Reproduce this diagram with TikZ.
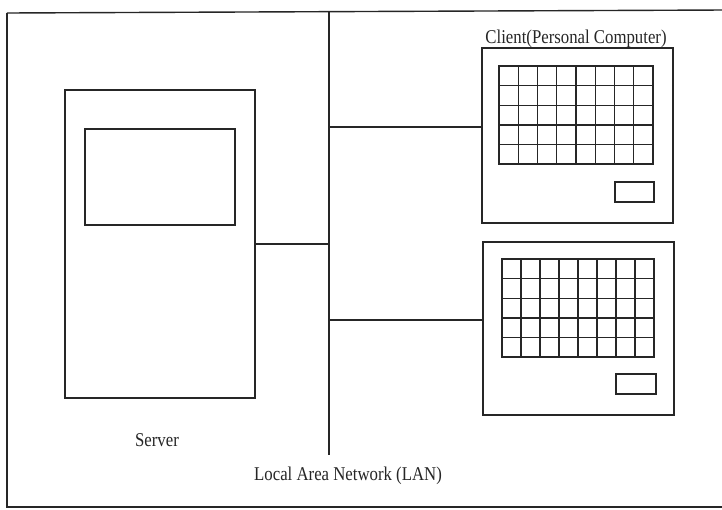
\documentclass[tikz,border=0pt]{standalone}
\usepackage{fontspec}
\setmainfont[FakeStretch=0.86]{Liberation Serif}
\usetikzlibrary{calc}
\begin{document}
\begin{tikzpicture}[x=1pt,y=-1pt,
  line width=1.3pt, draw=black!85,
  box/.style={draw, inner sep=0pt, outer sep=0pt, line width=1.4pt},
  lbl/.style={inner sep=0pt, font=\fontsize{19.5}{22}\selectfont, text=black!85}]
\useasboundingbox[fill=white] (0,0) rectangle (722,509);
% outer frame
\draw[line width=1.4pt] (7,13) -- (725,10);
\draw[line width=1.4pt] (7,13) -- (7,507) -- (725,507);
% LAN bus
\coordinate (lantop) at (329,12);
\coordinate (lanbot) at (329,455);
\draw (lantop) -- (lanbot);
% server
\node[box, minimum width=190pt, minimum height=308pt] (server) at (160,244) {};
\node[box, minimum width=150pt, minimum height=96pt] (srvscreen) at (160,177) {};
\draw (server.east) -- (server.east -| lantop);
\node[lbl, anchor=base] (srvlbl) at (157,446) {Server};
% client 1
\node[box, minimum width=191pt, minimum height=175pt] (c1) at (577.5,135.5) {};
\node[box, minimum width=154pt, minimum height=98pt] (g1) at (576,115) {};
\foreach \i in {1,...,7} \draw[line width=1.4pt] ($(g1.north west)!\i/8!(g1.north east)$) -- ($(g1.south west)!\i/8!(g1.south east)$);
\foreach \j in {1,...,4} \draw[line width=1.4pt] ($(g1.north west)!\j/5!(g1.south west)$) -- ($(g1.north east)!\j/5!(g1.south east)$);
\node[box, minimum width=39pt, minimum height=20pt] (b1) at (634.5,192) {};
\coordinate (j1) at (329,127);
\draw (j1) -- (j1 -| c1.west);
\node[lbl, anchor=base] (c1lbl) at (576,43) {Client(Personal Computer)};
% client 2
\node[box, minimum width=191pt, minimum height=173pt] (c2) at (578.5,328.5) {};
\node[box, minimum width=152pt, minimum height=98pt] (g2) at (578,308) {};
\foreach \i in {1,...,7} \draw[line width=1.4pt] ($(g2.north west)!\i/8!(g2.north east)$) -- ($(g2.south west)!\i/8!(g2.south east)$);
\foreach \j in {1,...,4} \draw[line width=1.4pt] ($(g2.north west)!\j/5!(g2.south west)$) -- ($(g2.north east)!\j/5!(g2.south east)$);
\node[box, minimum width=40pt, minimum height=20pt] (b2) at (636,384) {};
\coordinate (j2) at (329,320);
\draw (j2) -- (j2 -| c2.west);
% LAN label
\node[lbl, anchor=base] (lanlbl) at (348,480) {Local Area Network (LAN)};
\end{tikzpicture}
\end{document}
